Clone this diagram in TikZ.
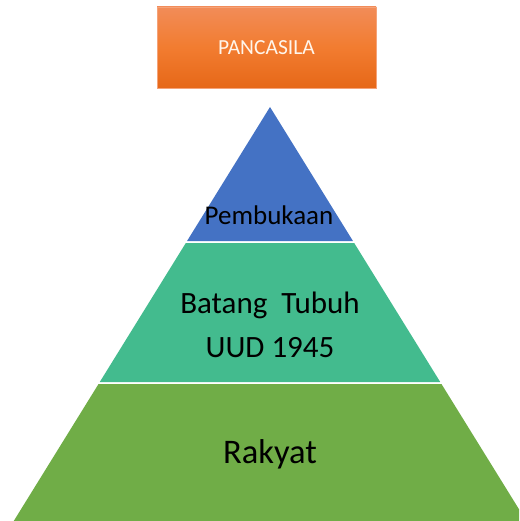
\documentclass[tikz,border=0pt]{standalone}
\usepackage{fontspec}
\setmainfont{Carlito}
\definecolor{oranyeAtas}{RGB}{242,140,88}
\definecolor{oranyeTengah}{RGB}{242,124,48}
\definecolor{oranyeBawah}{RGB}{230,104,24}
\definecolor{biru}{RGB}{68,114,196}
\definecolor{hijauTosca}{RGB}{67,187,142}
\definecolor{hijau}{RGB}{112,173,71}
\tikzset{
	lapisan/.style={draw=none},
	tulisan/.style={anchor=base, inner sep=0pt, text=black}
}
\begin{document}
\begin{tikzpicture}[x=1pt,y=-1pt]
	\useasboundingbox (0,0) rectangle (519,521);
	\clip (0,0) rectangle (519,521);

	%%Kotak Pancasila
	\draw[draw=oranyeAtas!80!white, line width=0.6pt, top color=oranyeAtas, bottom color=oranyeBawah, middle color=oranyeTengah]
		(157,7) rectangle (376,88);
	\node[tulisan, anchor=center, text={white!92!orange}, font=\fontsize{21.5}{24}\selectfont] (pancasila) at (266.5,47.5) {PANCASILA};

	%%Piramida
	\fill[lapisan, biru] (270,107) -- ({270-0.619*134},241) -- ({270+0.619*134},241) -- cycle;
	\foreach \t/\b/\w in {243/382/hijauTosca, 384/521/hijau}
		\fill[lapisan, \w] ({270-0.619*(\t-107)},\t) -- ({270+0.619*(\t-107)},\t)
			-- ({270+0.619*(\b-107)},\b) -- ({270-0.619*(\b-107)},\b) -- cycle;

	%%Tulisan
	\node[tulisan, font=\fontsize{27}{30}\selectfont] (pembukaan) at (269,224) {Pembukaan};
	\node[tulisan, font=\fontsize{31}{34}\selectfont] (batang) at (270,313) {Batang\ \ Tubuh};
	\node[tulisan, font=\fontsize{31}{34}\selectfont] (uud) at (270,357) {UUD 1945};
	\node[tulisan, font=\fontsize{34.5}{40}\selectfont] (rakyat) at (270,463) {Rakyat};
\end{tikzpicture}
\end{document}
